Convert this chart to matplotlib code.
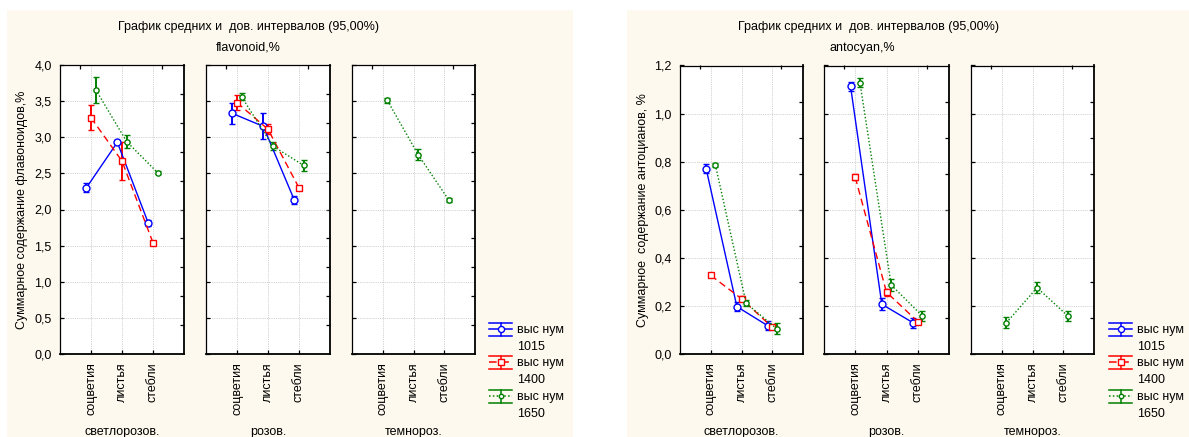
import numpy as np
import matplotlib
matplotlib.use("Agg")
import matplotlib.pyplot as plt
from matplotlib.lines import Line2D
from matplotlib.patches import Rectangle
from matplotlib.ticker import FuncFormatter

plt.rcParams['font.family'] = ['Liberation Sans', 'DejaVu Sans']
plt.rcParams['font.size'] = 9

W, H = 1189, 437

categories = ["соцветия", "листья", "стебли"]
groups = ["светлорозов.", "розов.", "темнороз."]
series = ["1015", "1400", "1650"]
nan = np.nan

# Flavonoids: mean and 95% CI half-width, one row per colour group
flav_1015_mean = [[2.30, 2.93, 1.81], [3.33, 3.15, 2.13], [nan, nan, nan]]
flav_1015_ci = [[0.06, 0.03, 0.04], [0.15, 0.18, 0.05], [nan, nan, nan]]
flav_1400_mean = [[3.27, 2.67, 1.54], [3.48, 3.11, 2.30], [nan, nan, nan]]
flav_1400_ci = [[0.17, 0.26, 0.02], [0.10, 0.07, 0.03], [nan, nan, nan]]
flav_1650_mean = [[3.66, 2.94, 2.51], [3.56, 2.88, 2.61], [3.51, 2.76, 2.13]]
flav_1650_ci = [[0.18, 0.09, 0.02], [0.05, 0.05, 0.08], [0.03, 0.08, 0.03]]

# Anthocyanins
anto_1015_mean = [[0.771, 0.197, 0.118], [1.113, 0.207, 0.130], [nan, nan, nan]]
anto_1015_ci = [[0.020, 0.020, 0.020], [0.020, 0.025, 0.020], [nan, nan, nan]]
anto_1400_mean = [[0.327, 0.230, 0.111], [0.735, 0.257, 0.135], [nan, nan, nan]]
anto_1400_ci = [[0.006, 0.010, 0.008], [0.012, 0.015, 0.008], [nan, nan, nan]]
anto_1650_mean = [[0.787, 0.211, 0.105], [1.129, 0.287, 0.158], [0.130, 0.276, 0.158]]
anto_1650_ci = [[0.008, 0.012, 0.022], [0.020, 0.024, 0.022], [0.022, 0.022, 0.020]]

styles = {
    "1015": dict(color="#0000ff", ls="-", marker="o", ms=5.0, dx=-0.15),
    "1400": dict(color="#ff0000", ls=(0, (5, 3)), marker="s", ms=5.0, dx=0.0),
    "1650": dict(color="#008000", ls=(0, (1, 1.5)), marker="o", ms=3.8, dx=0.15),
}

BG = "#fdf9ee"

fig = plt.figure(figsize=(W / 100, H / 100), dpi=100)
fig.patch.set_facecolor("white")
fig.add_artist(Rectangle((7 / W, 0), (573 - 7) / W, 1 - 10 / H,
                         transform=fig.transFigure, facecolor=BG, edgecolor="none", zorder=-10))
fig.add_artist(Rectangle((627 / W, 0), (W - 627) / W, 1 - 10 / H,
                         transform=fig.transFigure, facecolor=BG, edgecolor="none", zorder=-10))


def px_rect(l, t, r, b):
    return [l / W, 1 - b / H, (r - l) / W, (b - t) / H]


comma = FuncFormatter(lambda v, p: ("%.1f" % v).replace(".", ","))


def draw_chart(panel_px, top, bottom, ymax, ystep, rstep, data, ylabel, title2, title_x, title2_x, ylabel_x, legend_x):
    for gi, (l, r) in enumerate(panel_px):
        ax = fig.add_axes(px_rect(l, top, r, bottom))
        ax.set_facecolor("white")
        ax.set_xlim(0, 4)
        ax.set_ylim(0, ymax)
        for s in series:
            mean, ci = data[s]
            m = np.array(mean[gi], dtype=float)
            e = np.array(ci[gi], dtype=float)
            if np.all(np.isnan(m)):
                continue
            st = styles[s]
            x = np.arange(1, 4) + st["dx"]
            ax.errorbar(x, m, yerr=e, color=st["color"], ls=st["ls"], lw=1.0,
                        marker=st["marker"], ms=st["ms"], mfc="white", mec=st["color"],
                        mew=1.0, ecolor=st["color"], elinewidth=1.4, capsize=2.2,
                        capthick=1.0, zorder=3, clip_on=False)
        ax.set_xticks(np.arange(1, 4))
        ax.set_xticklabels(categories, rotation=90, va="top", ha="center")
        yt = np.arange(0, ymax + 1e-9, ystep)
        ax.set_yticks(yt)
        ax.yaxis.set_major_formatter(comma)
        ax.grid(True, color="#c4c4c4", ls=(0, (1, 1.2)), lw=0.6)
        ax.set_axisbelow(True)
        ax.tick_params(direction="in", length=3, width=0.9, pad=6, colors="black")
        if gi > 0:
            ax.tick_params(axis="y", labelleft=False)
        for side, lw in (("left", 0.9), ("top", 0.9), ("right", 1.3), ("bottom", 1.3)):
            ax.spines[side].set_linewidth(lw)
            ax.spines[side].set_color("black")
        sec_r = ax.secondary_yaxis("right")
        sec_r.set_yticks(np.arange(rstep, ymax - 1e-9, rstep))
        sec_r.tick_params(direction="in", length=3, width=0.9, labelright=False)
        sec_r.spines["right"].set_visible(False)
        sec_t = ax.secondary_xaxis("top")
        sec_t.set_xticks([0.65, 3.3])
        sec_t.tick_params(direction="in", length=3, width=0.9, labeltop=False)
        sec_t.spines["top"].set_visible(False)
        fig.text((l + r) / 2 / W, 1 - 432 / H, groups[gi], ha="center", va="center")

    fig.text(title_x / W, 1 - 27 / H, "График средних и  дов. интервалов (95,00%)",
             ha="center", va="center")
    fig.text(title2_x / W, 1 - 48 / H, title2, ha="center", va="center")
    fig.text(ylabel_x / W, 1 - (top + bottom) / 2 / H, ylabel, rotation=90,
             ha="center", va="center")

    # legend
    entries = [(329, "1015"), (362, "1400"), (396, "1650")]
    x0, x1 = legend_x, legend_x + 23
    xc = (x0 + x1) / 2
    for yc, s in entries:
        st = styles[s]
        c = st["color"]
        for yy in (yc - 6.5, yc + 6.5):
            fig.add_artist(Line2D([x0 / W, x1 / W], [1 - yy / H, 1 - yy / H],
                                  transform=fig.transFigure, color=c, lw=1.1))
        fig.add_artist(Line2D([xc / W, xc / W], [1 - (yc - 6.5) / H, 1 - (yc + 6.5) / H],
                              transform=fig.transFigure, color=c, lw=1.1))
        fig.add_artist(Line2D([x0 / W, x1 / W], [1 - yc / H, 1 - yc / H],
                              transform=fig.transFigure, color=c, lw=1.1, ls=st["ls"]))
        fig.add_artist(Line2D([xc / W], [1 - yc / H], transform=fig.transFigure,
                              color=c, marker=st["marker"], ms=st["ms"] - 0.6,
                              mfc="white", mec=c, mew=1.0, ls="none"))
        fig.text((x1 + 5) / W, 1 - (yc + 1) / H, "выс нум", ha="left", va="center")
        fig.text((x1 + 5) / W, 1 - (yc + 18) / H, s, ha="left", va="center")


flav_data = {"1015": (flav_1015_mean, flav_1015_ci),
             "1400": (flav_1400_mean, flav_1400_ci),
             "1650": (flav_1650_mean, flav_1650_ci)}
anto_data = {"1015": (anto_1015_mean, anto_1015_ci),
             "1400": (anto_1400_mean, anto_1400_ci),
             "1650": (anto_1650_mean, anto_1650_ci)}

draw_chart([(60, 184), (206, 330), (352, 475)], 65, 354, 4.0, 0.5, 0.4, flav_data,
           "Суммарное содержание флавоноидов,%", "flavonoid,%", 248, 248, 22, 489)
draw_chart([(680, 803), (824, 949), (971, 1094)], 65.5, 354, 1.2, 0.2, 0.15, anto_data,
           "Суммарное  содержание антоцианов, %", "antocyan,%", 868, 862, 643, 1109)

fig.savefig("out.png", dpi=100, facecolor=fig.get_facecolor())
